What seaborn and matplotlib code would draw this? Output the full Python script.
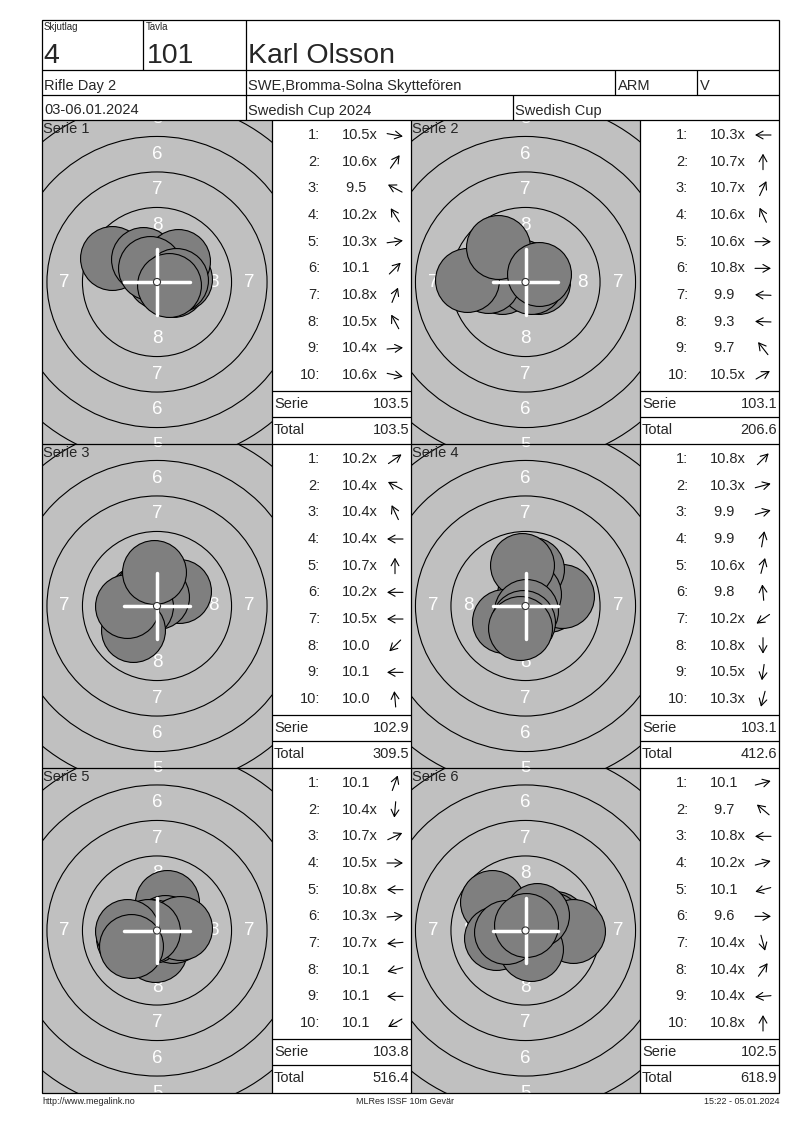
import numpy as np
import pandas as pd
import matplotlib
matplotlib.use("Agg")
import matplotlib.pyplot as plt
from matplotlib.patches import Circle, Rectangle
import seaborn as sns

# --- header / footer texts ---
skjutlag = "4"
tavla = "101"
shooter = "Karl Olsson"
event = "Rifle Day 2"
club = "SWE,Bromma-Solna Skyttefören"
klass = "ARM"
group = "V"
dates = "03-06.01.2024"
competition = "Swedish Cup 2024"
cup = "Swedish Cup"
footer_left = "http://www.megalink.no"
footer_mid = "MLRes ISSF 10m Gevär"
footer_right = "15:22 - 05.01.2024"

# --- shots, as printed, and arrow direction (degrees, 0 = right, 90 = up) ---
serie1_shots = ["10.5x", "10.6x", "9.5", "10.2x", "10.3x", "10.1", "10.8x", "10.5x", "10.4x", "10.6x"]
serie1_dirs = [-10, 55, 152, 122, 8, 45, 68, 118, 5, -12]
serie2_shots = ["10.3x", "10.7x", "10.7x", "10.6x", "10.6x", "10.8x", "9.9", "9.3", "9.7", "10.5x"]
serie2_dirs = [180, 90, 65, 115, 0, 0, 178, 178, 128, 30]
serie3_shots = ["10.2x", "10.4x", "10.4x", "10.4x", "10.7x", "10.2x", "10.5x", "10.0", "10.1", "10.0"]
serie3_dirs = [35, 152, 115, 180, 90, 180, 180, 225, 180, 95]
serie4_shots = ["10.8x", "10.3x", "9.9", "9.9", "10.6x", "9.8", "10.2x", "10.8x", "10.5x", "10.3x"]
serie4_dirs = [45, 15, 15, 80, 75, 95, 215, 270, 262, 255]
serie5_shots = ["10.1", "10.4x", "10.7x", "10.5x", "10.8x", "10.3x", "10.7x", "10.1", "10.1", "10.1"]
serie5_dirs = [70, 265, 25, 0, 180, 5, 185, 195, 180, 210]
serie6_shots = ["10.1", "9.7", "10.8x", "10.2x", "10.1", "9.6", "10.4x", "10.4x", "10.4x", "10.8x"]
serie6_dirs = [15, 140, 180, 15, 195, 0, 285, 55, 185, 90]

serie_sums = [103.5, 103.1, 102.9, 103.1, 103.8, 102.5]
running_totals = [103.5, 206.6, 309.5, 412.6, 516.4, 618.9]

all_shots = [serie1_shots, serie2_shots, serie3_shots, serie4_shots, serie5_shots, serie6_shots]
all_dirs = [serie1_dirs, serie2_dirs, serie3_dirs, serie4_dirs, serie5_dirs, serie6_dirs]

# ISSF 10m air rifle geometry (mm), rings drawn from 8 outwards
ring_names = [8, 7, 6, 5, 4]
ring_radii = [5.25, 7.75, 10.25, 12.75, 15.25]
label_rings = [8, 7, 6, 5]
label_radii = [4.0, 6.5, 9.0, 11.5]
pellet_r = 2.25

rows = []
for i, (shots, dirs) in enumerate(zip(all_shots, all_dirs)):
    for n, (lab, ang) in enumerate(zip(shots, dirs)):
        val = float(lab.rstrip("x"))
        d = (10.95 - val) * 2.5  # centre distance for the decimal score
        rows.append(dict(serie=i + 1, nr=n + 1, label=lab, score=val, dir=ang,
                         x=d * np.cos(np.radians(ang)), y=d * np.sin(np.radians(ang))))
df = pd.DataFrame(rows)

# --- page layout (pixels) ---
W, H, DPI = 800, 1130, 100
PX_PER_MM = 14.2
L, R, T, B = 42, 779, 20, 1093
block_tops = [120, 444, 768]
block_bots = [444, 768, 1093]
col_edges = [(42, 272, 411), (411, 640, 779)]  # target left, table left, table right

sns.set_style("white")
plt.rcParams["font.family"] = ["Liberation Sans", "DejaVu Sans"]

fig = plt.figure(figsize=(W / DPI, H / DPI), dpi=DPI)
page = fig.add_axes([0, 0, 1, 1])
page.set_xlim(0, W)
page.set_ylim(H, 0)
page.axis("off")
page.set_zorder(10)


def hline(y, x0, x1):
    page.plot([x0, x1], [y, y], color="black", lw=0.9, solid_capstyle="butt")


def vline(x, y0, y1):
    page.plot([x, x], [y0, y1], color="black", lw=0.9, solid_capstyle="butt")


page.add_patch(Rectangle((L, T), R - L, B - T, fill=False, ec="black", lw=0.9))
# header grid
vline(143, 20, 70)
vline(246, 20, 120)
hline(70, L, R)
hline(95, L, R)
hline(120, L, R)
vline(615, 70, 95)
vline(697, 70, 95)
vline(513, 95, 120)

page.text(44, 22, "Skjutlag", fontsize=7, va="top")
page.text(146, 22, "Tavla", fontsize=7, va="top")
page.text(43, 63, skjutlag, fontsize=20.5, va="baseline")
page.text(147, 63, tavla, fontsize=20.5, va="baseline")
page.text(248, 63, shooter, fontsize=20.5, va="baseline")
page.text(44, 90, event, fontsize=10.5, va="baseline")
page.text(248, 90, club, fontsize=10.5, va="baseline")
page.text(618, 90, klass, fontsize=10.5, va="baseline")
page.text(700, 90, group, fontsize=10.5, va="baseline")
page.text(44, 114.5, dates, fontsize=10.5, va="baseline")
page.text(248, 114.5, competition, fontsize=10.5, va="baseline")
page.text(515, 114.5, cup, fontsize=10.5, va="baseline")

# block grid
for y in block_bots[:-1]:
    hline(y, L, R)
for x in [272, 411, 640]:
    vline(x, 120, B)

# marker size for a 4.5 mm pellet in points^2
pellet_s = (2 * pellet_r * PX_PER_MM * 72 / DPI) ** 2
arrow_len = 16

for k in range(6):
    bi, ci = k // 2, k % 2
    y0, y1 = block_tops[bi], block_bots[bi]
    tx0, tx1, tx2 = col_edges[ci]
    w, h = tx1 - tx0, y1 - y0
    half_w, half_h = w / 2 / PX_PER_MM, h / 2 / PX_PER_MM

    ax = fig.add_axes([tx0 / W, 1 - y1 / H, w / W, h / H])
    ax.set_xlim(-half_w, half_w)
    ax.set_ylim(-half_h, half_h)
    ax.set_facecolor("#c0c0c0")
    ax.set_xticks([])
    ax.set_yticks([])
    for sp in ax.spines.values():
        sp.set_visible(False)

    for r in ring_radii:
        ax.add_patch(Circle((0, 0), r, fill=False, ec="black", lw=0.8, zorder=1))
    for n, r in zip(label_rings, label_radii):
        for dx, dy in [(0, 1), (0, -1), (1, 0), (-1, 0)]:
            if abs(dx * r) > half_w - 0.3:
                continue
            ax.text(dx * r, dy * r, str(n), color="white", fontsize=13.5,
                    ha="center", va="center", zorder=2, clip_on=True)

    ds = df[df["serie"] == k + 1]
    sns.scatterplot(data=ds, x="x", y="y", s=pellet_s, color="#7f7f7f",
                    edgecolor="black", linewidth=0.8, legend=False, ax=ax, zorder=3)
    ax.set_xlabel("")
    ax.set_ylabel("")

    ax.plot([-2.3, 2.3], [0, 0], color="white", lw=2.5, zorder=4)
    ax.plot([0, 0], [-2.3, 2.3], color="white", lw=2.5, zorder=4)
    ax.add_patch(Circle((0, 0), 0.25, fc="white", ec="#333333", lw=0.8, zorder=5))

    page.text(tx0 + 1, y0 + 9, f"Serie {k + 1}", fontsize=10.5, va="center")

    # score table
    for _, row in ds.iterrows():
        cy = y0 + 15 + 26.67 * (row["nr"] - 1)
        page.text(tx1 + 48, cy, f"{row['nr']}:", fontsize=10.5, ha="right", va="center")
        txt = f"{row['score']:4.1f}" + ("x" if row["label"].endswith("x") else "")
        page.text(tx1 + 70, cy, txt, fontsize=10.5, ha="left", va="center")
        cx = tx1 + 123
        ux, uy = np.cos(np.radians(row["dir"])), -np.sin(np.radians(row["dir"]))
        page.annotate("", xy=(cx + ux * arrow_len / 2, cy + uy * arrow_len / 2),
                      xytext=(cx - ux * arrow_len / 2, cy - uy * arrow_len / 2),
                      arrowprops=dict(arrowstyle="->,head_length=0.5,head_width=0.28",
                                      lw=0.8, color="black", shrinkA=0, shrinkB=0))

    hline(y0 + 270.7, tx1, tx2)
    hline(y0 + 296.7, tx1, tx2)
    page.text(tx1 + 2, y0 + 283.5, "Serie", fontsize=10.5, va="center")
    page.text(tx2 - 2, y0 + 283.5, f"{serie_sums[k]:.1f}", fontsize=10.5, ha="right", va="center")
    page.text(tx1 + 2, y0 + 309.5, "Total", fontsize=10.5, va="center")
    page.text(tx2 - 2, y0 + 309.5, f"{running_totals[k]:.1f}", fontsize=10.5, ha="right", va="center")

page.text(42, 1102, footer_left, fontsize=6.5, va="center")
page.text(405, 1102, footer_mid, fontsize=6.5, va="center", ha="center")
page.text(779, 1102, footer_right, fontsize=6.5, va="center", ha="right")

fig.savefig("out.png", dpi=DPI)
